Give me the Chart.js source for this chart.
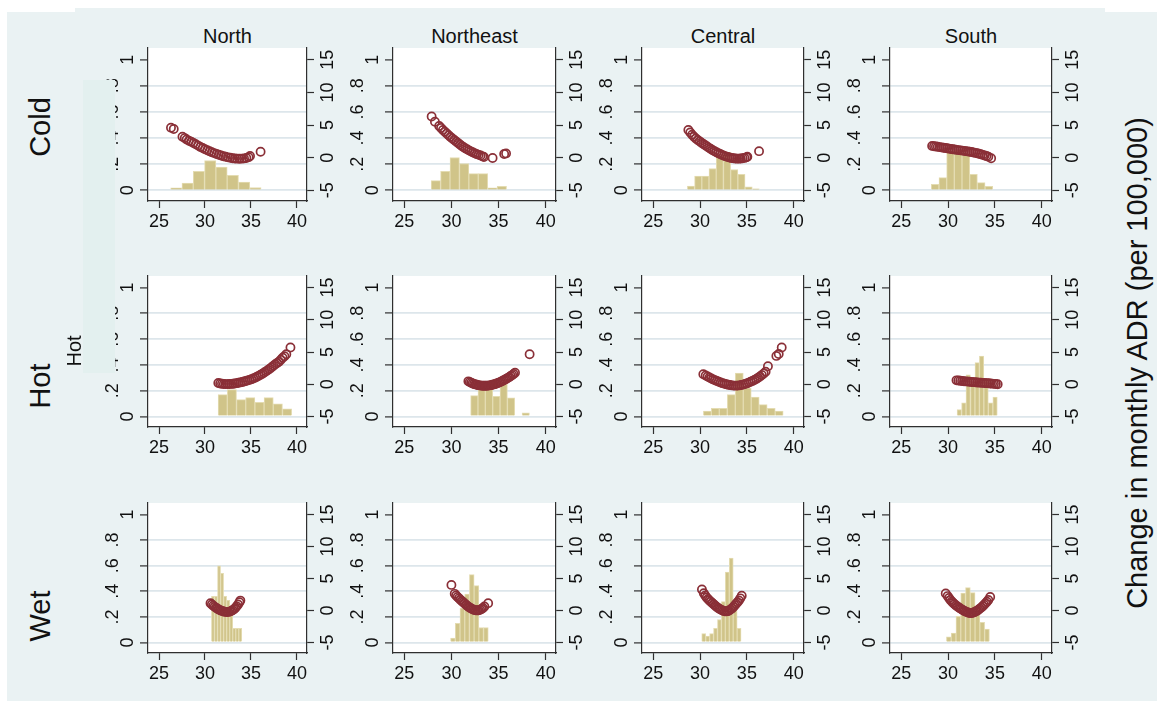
<!DOCTYPE html>
<html lang="en">
<head>
<meta charset="utf-8">
<title>Change in monthly ADR by temperature, climate and region</title>
<script src="https://cdn.jsdelivr.net/npm/chart.js@4.4.1/dist/chart.umd.min.js"></script>
<style>
  html, body { margin:0; padding:0; background:#ffffff; }
  #fig { position:relative; width:1157px; height:708px; overflow:hidden; background:#ffffff;
         font-family:'Liberation Sans', Arial, Helvetica, sans-serif; color:#111; }
  .bg { position:absolute; background:#eaf2f3; }
  #fig canvas { position:absolute; z-index:1; }
  .txt { position:absolute; white-space:nowrap; line-height:1; }
  .rot { transform: translate(-50%,-50%) rotate(-90deg); }
</style>
</head>
<body>
<div id="fig">
  <div class="bg" style="left:7px;top:12px;width:1150px;height:689px"></div>
  <div class="bg" style="left:75px;top:8px;width:1030px;height:4px"></div>
</div>
<script>
// ---------------- labels & ticks ----------------
const regions = ['North', 'Northeast', 'Central', 'South'];
const climates = ['Cold', 'Hot', 'Wet'];
const yAxisTitle = 'Change in monthly ADR (per 100,000)';
const xTickValues = [25, 30, 35, 40];
const densityTickValues = [0, 0.2, 0.4, 0.6, 0.8, 1];
const densityTickLabels = ['0', '.2', '.4', '.6', '.8', '1'];
const adrTickValues = [-5, 0, 5, 10, 15];

// ---------------- Cold ----------------
const coldNorthBinTemp = [26.88, 28.11, 29.34, 30.57, 31.80, 33.03, 34.26, 35.49];
const coldNorthDensity = [0.018, 0.056, 0.146, 0.228, 0.177, 0.115, 0.062, 0.020];
const coldNorthTemp = [26.3, 26.6, 27.55, 27.8, 28.0, 28.25, 28.5, 28.75, 29.0, 29.25, 29.5, 29.75, 30.0, 30.25, 30.5, 30.75, 31.0, 31.25, 31.5, 31.75, 32.0, 32.25, 32.5, 32.75, 33.0, 33.25, 33.5, 33.75, 34.0, 34.25, 34.5, 34.75, 34.9, 36.05];
const coldNorthADR = [4.6, 4.4, 3.2, 3.0, 2.8, 2.6, 2.45, 2.25, 2.05, 1.85, 1.65, 1.48, 1.3, 1.14, 0.98, 0.84, 0.7, 0.57, 0.45, 0.33, 0.22, 0.13, 0.05, -0.02, -0.08, -0.12, -0.15, -0.16, -0.15, -0.11, -0.05, 0.08, 0.25, 0.9];

const coldNortheastBinTemp = [28.35, 29.35, 30.35, 31.35, 32.35, 33.35, 34.35, 35.35];
const coldNortheastDensity = [0.074, 0.146, 0.251, 0.205, 0.128, 0.128, 0.018, 0.031];
const coldNortheastTemp = [27.9, 28.25, 28.7, 28.9, 29.1, 29.3, 29.5, 29.7, 29.9, 30.1, 30.3, 30.5, 30.7, 30.9, 31.1, 31.3, 31.5, 31.7, 31.9, 32.1, 32.3, 32.5, 32.7, 32.9, 33.1, 33.3, 33.45, 34.37, 35.6, 35.8];
const coldNortheastADR = [6.3, 5.5, 4.85, 4.55, 4.25, 3.97, 3.7, 3.44, 3.18, 2.93, 2.7, 2.47, 2.24, 2.02, 1.8, 1.6, 1.42, 1.25, 1.08, 0.93, 0.79, 0.66, 0.54, 0.43, 0.32, 0.2, 0.1, -0.05, 0.55, 0.65];

const coldCentralBinTemp = [29.03, 29.80, 30.57, 31.34, 32.11, 32.88, 33.65, 34.42, 35.19, 35.96];
const coldCentralDensity = [0.033, 0.108, 0.108, 0.167, 0.27, 0.29, 0.159, 0.123, 0.026, 0.012];
const coldCentralTemp = [28.75, 28.95, 29.15, 29.35, 29.55, 29.75, 29.95, 30.15, 30.35, 30.55, 30.75, 30.95, 31.15, 31.35, 31.55, 31.75, 31.95, 32.15, 32.35, 32.55, 32.75, 32.95, 33.15, 33.35, 33.55, 33.75, 33.95, 34.15, 34.35, 34.55, 34.75, 34.95, 35.05, 36.3];
const coldCentralADR = [4.25, 3.85, 3.5, 3.2, 2.95, 2.72, 2.5, 2.3, 2.1, 1.9, 1.7, 1.5, 1.32, 1.15, 0.98, 0.82, 0.68, 0.55, 0.42, 0.3, 0.2, 0.1, 0.02, -0.05, -0.1, -0.13, -0.15, -0.15, -0.13, -0.1, -0.04, 0.05, 0.15, 1.0];

const coldSouthBinTemp = [28.62, 29.44, 30.26, 31.08, 31.90, 32.72, 33.54, 34.36];
const coldSouthDensity = [0.046, 0.097, 0.29, 0.31, 0.27, 0.123, 0.059, 0.031];
const coldSouthTemp = [28.3, 28.5, 28.7, 28.9, 29.1, 29.3, 29.5, 29.7, 29.9, 30.1, 30.3, 30.5, 30.7, 30.9, 31.1, 31.3, 31.5, 31.7, 31.9, 32.1, 32.3, 32.5, 32.7, 32.9, 33.1, 33.3, 33.5, 33.7, 33.9, 34.1, 34.3, 34.6];
const coldSouthADR = [1.8, 1.75, 1.7, 1.67, 1.62, 1.57, 1.52, 1.47, 1.43, 1.38, 1.33, 1.28, 1.24, 1.2, 1.16, 1.12, 1.08, 1.04, 1.0, 0.96, 0.91, 0.86, 0.8, 0.74, 0.67, 0.6, 0.52, 0.43, 0.34, 0.25, 0.14, -0.1];

// ---------------- Hot ----------------
const hotNorthBinTemp = [31.93, 32.93, 33.93, 34.93, 35.93, 36.93, 37.93, 38.93];
const hotNorthDensity = [0.169, 0.208, 0.131, 0.146, 0.110, 0.146, 0.097, 0.059];
const hotNorthTemp = [31.45, 31.65, 31.85, 32.05, 32.25, 32.45, 32.65, 32.85, 33.05, 33.25, 33.45, 33.65, 33.85, 34.05, 34.25, 34.45, 34.65, 34.85, 35.05, 35.25, 35.45, 35.65, 35.85, 36.05, 36.25, 36.45, 36.65, 36.85, 37.05, 37.25, 37.45, 37.65, 37.85, 38.05, 38.25, 38.45, 38.65, 38.85, 39.3];
const hotNorthADR = [0.2, 0.12, 0.07, 0.04, 0.02, 0.02, 0.03, 0.05, 0.08, 0.12, 0.17, 0.22, 0.28, 0.34, 0.42, 0.5, 0.59, 0.68, 0.78, 0.9, 1.02, 1.15, 1.3, 1.46, 1.63, 1.81, 2.0, 2.2, 2.42, 2.65, 2.88, 3.1, 3.3, 3.5, 3.8, 4.1, 4.35, 4.65, 5.7];

const hotNortheastBinTemp = [32.43, 33.21, 33.99, 34.77, 35.55, 36.33, 37.89];
const hotNortheastDensity = [0.162, 0.25, 0.24, 0.156, 0.254, 0.144, 0.028];
const hotNortheastTemp = [31.8, 31.95, 32.1, 32.25, 32.4, 32.55, 32.7, 32.85, 33.0, 33.15, 33.3, 33.45, 33.6, 33.75, 33.9, 34.05, 34.2, 34.35, 34.5, 34.65, 34.8, 34.95, 35.1, 35.25, 35.4, 35.55, 35.7, 35.85, 36.0, 36.15, 36.3, 36.45, 36.6, 36.75, 38.3];
const hotNortheastADR = [0.45, 0.33, 0.22, 0.12, 0.04, -0.03, -0.09, -0.14, -0.18, -0.21, -0.23, -0.24, -0.24, -0.23, -0.21, -0.18, -0.14, -0.09, -0.03, 0.04, 0.12, 0.2, 0.29, 0.39, 0.5, 0.61, 0.73, 0.86, 0.99, 1.13, 1.27, 1.42, 1.58, 1.8, 4.65];

const hotCentralBinTemp = [30.78, 31.63, 32.48, 33.34, 34.19, 35.04, 35.89, 36.74, 37.60, 38.45];
const hotCentralDensity = [0.041, 0.062, 0.062, 0.169, 0.336, 0.221, 0.151, 0.092, 0.062, 0.041];
const hotCentralTemp = [30.35, 30.6, 30.8, 31.0, 31.2, 31.4, 31.6, 31.8, 32.0, 32.2, 32.4, 32.6, 32.8, 33.0, 33.2, 33.4, 33.6, 33.8, 34.0, 34.2, 34.4, 34.6, 34.8, 35.0, 35.2, 35.4, 35.6, 35.8, 36.0, 36.2, 36.4, 36.6, 36.8, 37.0, 37.25, 38.15, 38.4, 38.72];
const hotCentralADR = [1.55, 1.35, 1.2, 1.05, 0.9, 0.75, 0.62, 0.5, 0.38, 0.27, 0.17, 0.08, 0.0, -0.07, -0.13, -0.18, -0.21, -0.22, -0.21, -0.18, -0.13, -0.06, 0.03, 0.13, 0.25, 0.38, 0.52, 0.67, 0.83, 1.0, 1.2, 1.42, 1.65, 1.95, 2.8, 4.4, 4.7, 5.7];

const hotSouthBinTemp = [31.20, 31.68, 32.15, 32.63, 33.11, 33.58, 34.06, 34.54, 35.02];
const hotSouthDensity = [0.054, 0.105, 0.323, 0.26, 0.418, 0.469, 0.28, 0.105, 0.151];
const hotSouthTemp = [30.9, 31.1, 31.3, 31.5, 31.7, 31.9, 32.1, 32.3, 32.5, 32.7, 32.9, 33.1, 33.3, 33.5, 33.7, 33.9, 34.1, 34.3, 34.5, 34.7, 34.9, 35.1, 35.3];
const hotSouthADR = [0.6, 0.57, 0.53, 0.5, 0.47, 0.44, 0.41, 0.38, 0.35, 0.32, 0.3, 0.27, 0.25, 0.23, 0.21, 0.19, 0.17, 0.15, 0.12, 0.09, 0.06, 0.03, 0.0];

// ---------------- Wet ----------------
const wetNorthBinTemp = [30.87, 31.20, 31.53, 31.86, 32.19, 32.52, 32.85, 33.18, 33.51, 33.84];
const wetNorthDensity = [0.36, 0.36, 0.6, 0.54, 0.36, 0.33, 0.25, 0.11, 0.11, 0.11];
const wetNorthTemp = [30.6, 30.75, 30.9, 31.05, 31.2, 31.35, 31.5, 31.65, 31.8, 31.95, 32.1, 32.25, 32.4, 32.55, 32.7, 32.85, 33.0, 33.15, 33.3, 33.45, 33.6, 33.75, 33.85];
const wetNorthADR = [1.15, 0.95, 0.75, 0.57, 0.42, 0.28, 0.15, 0.04, -0.05, -0.12, -0.18, -0.22, -0.24, -0.22, -0.17, -0.08, 0.04, 0.2, 0.4, 0.65, 0.95, 1.3, 1.55];

const wetNortheastBinTemp = [30.16, 30.66, 31.16, 31.66, 32.16, 32.66, 33.16, 33.66];
const wetNortheastDensity = [0.034, 0.149, 0.269, 0.379, 0.53, 0.444, 0.117, 0.117];
const wetNortheastTemp = [30.0, 30.35, 30.5, 30.65, 30.8, 30.95, 31.1, 31.25, 31.4, 31.55, 31.7, 31.85, 32.0, 32.15, 32.3, 32.45, 32.6, 32.75, 32.9, 33.05, 33.2, 33.35, 33.5, 33.9];
const wetNortheastADR = [4.0, 2.6, 2.35, 2.12, 1.9, 1.7, 1.5, 1.3, 1.1, 0.9, 0.72, 0.55, 0.4, 0.27, 0.16, 0.08, 0.03, 0.02, 0.05, 0.12, 0.24, 0.4, 0.62, 1.15];

const wetCentralBinTemp = [30.39, 30.81, 31.23, 31.65, 32.07, 32.49, 32.91, 33.33, 33.75, 34.17];
const wetCentralDensity = [0.07, 0.05, 0.07, 0.11, 0.18, 0.32, 0.55, 0.66, 0.30, 0.11];
const wetCentralTemp = [30.2, 30.4, 30.55, 30.7, 30.85, 31.0, 31.15, 31.3, 31.45, 31.6, 31.75, 31.9, 32.05, 32.2, 32.35, 32.5, 32.65, 32.8, 32.95, 33.1, 33.25, 33.4, 33.55, 33.7, 33.85, 34.0, 34.15, 34.3, 34.45];
const wetCentralADR = [3.3, 2.7, 2.35, 2.05, 1.8, 1.58, 1.37, 1.17, 0.97, 0.78, 0.6, 0.43, 0.28, 0.14, 0.03, -0.06, -0.12, -0.14, -0.1, 0.0, 0.15, 0.33, 0.55, 0.8, 1.05, 1.3, 1.56, 1.9, 2.3];

const wetSouthBinTemp = [30.08, 30.59, 31.10, 31.61, 32.12, 32.63, 33.14, 33.65, 34.16];
const wetSouthDensity = [0.045, 0.074, 0.205, 0.387, 0.429, 0.39, 0.27, 0.158, 0.105];
const wetSouthTemp = [29.75, 29.95, 30.1, 30.25, 30.4, 30.55, 30.7, 30.85, 31.0, 31.15, 31.3, 31.45, 31.6, 31.75, 31.9, 32.05, 32.2, 32.35, 32.5, 32.65, 32.8, 32.95, 33.1, 33.25, 33.4, 33.55, 33.7, 33.85, 34.0, 34.15, 34.3, 34.5];
const wetSouthADR = [2.65, 2.25, 1.95, 1.65, 1.4, 1.18, 0.98, 0.8, 0.63, 0.47, 0.32, 0.18, 0.05, -0.07, -0.18, -0.28, -0.35, -0.38, -0.38, -0.34, -0.26, -0.15, -0.02, 0.13, 0.3, 0.48, 0.68, 0.9, 1.13, 1.37, 1.65, 2.1];

// ---------------- assemble ----------------
const panels = {
  Cold: {
    North:     { binTemp: coldNorthBinTemp, density: coldNorthDensity, temp: coldNorthTemp, adr: coldNorthADR },
    Northeast: { binTemp: coldNortheastBinTemp, density: coldNortheastDensity, temp: coldNortheastTemp, adr: coldNortheastADR },
    Central:   { binTemp: coldCentralBinTemp, density: coldCentralDensity, temp: coldCentralTemp, adr: coldCentralADR },
    South:     { binTemp: coldSouthBinTemp, density: coldSouthDensity, temp: coldSouthTemp, adr: coldSouthADR }
  },
  Hot: {
    North:     { binTemp: hotNorthBinTemp, density: hotNorthDensity, temp: hotNorthTemp, adr: hotNorthADR },
    Northeast: { binTemp: hotNortheastBinTemp, density: hotNortheastDensity, temp: hotNortheastTemp, adr: hotNortheastADR },
    Central:   { binTemp: hotCentralBinTemp, density: hotCentralDensity, temp: hotCentralTemp, adr: hotCentralADR },
    South:     { binTemp: hotSouthBinTemp, density: hotSouthDensity, temp: hotSouthTemp, adr: hotSouthADR }
  },
  Wet: {
    North:     { binTemp: wetNorthBinTemp, density: wetNorthDensity, temp: wetNorthTemp, adr: wetNorthADR },
    Northeast: { binTemp: wetNortheastBinTemp, density: wetNortheastDensity, temp: wetNortheastTemp, adr: wetNortheastADR },
    Central:   { binTemp: wetCentralBinTemp, density: wetCentralDensity, temp: wetCentralTemp, adr: wetCentralADR },
    South:     { binTemp: wetSouthBinTemp, density: wetSouthDensity, temp: wetSouthTemp, adr: wetSouthADR }
  }
};

// ---------------- layout / style ----------------
const PLOT_L = [148, 393, 642, 890];
const PLOT_R = [307, 556, 804, 1052];
const PLOT_T = [48, 276, 503];
const PLOT_B = [201, 427, 653];
const IN_W = 28, OUT_W = 22, RIGHT_W = 38, X_H = 36, TOP_PAD = 24;
const X_MIN = 23.8, X_MAX = 41.1;
const D_MIN = -0.082, D_MAX = 1.09;
const A_MIN = -5 + 20 * D_MIN, A_MAX = -5 + 20 * D_MAX;
const AXIS = '#2f2f2f';
const GRID = '#dde6eb';
const SAND = 'rgb(208,196,137)';
const SAND_EDGE = 'rgb(228,220,178)';
const MAROON = '#8a2f37';

Chart.defaults.font.family = "'Liberation Sans', Arial, Helvetica, sans-serif";
Chart.defaults.font.size = 18;
Chart.defaults.color = '#111';

const densityLabel = v => {
  const i = densityTickValues.findIndex(t => Math.abs(t - v) < 1e-9);
  return i >= 0 ? densityTickLabels[i] : '';
};

const whitePlot = {
  id: 'whitePlot',
  beforeDraw(chart) {
    const { ctx, chartArea: a } = chart;
    ctx.save();
    ctx.fillStyle = '#ffffff';
    ctx.fillRect(a.left, a.top, a.right - a.left, a.bottom - a.top);
    ctx.restore();
  }
};

const fig = document.getElementById('fig');

function makePanel(r, c) {
  const d = panels[climates[r]][regions[c]];
  const canvas = document.createElement('canvas');
  const w = PLOT_R[c] - PLOT_L[c] + IN_W + OUT_W + RIGHT_W;
  const h = TOP_PAD + PLOT_B[r] - PLOT_T[r] + X_H;
  canvas.width = w; canvas.height = h;
  canvas.style.width = w + 'px'; canvas.style.height = h + 'px';
  canvas.style.left = (PLOT_L[c] - IN_W - OUT_W) + 'px';
  canvas.style.top = (PLOT_T[r] - TOP_PAD) + 'px';
  fig.appendChild(canvas);

  const rotTicks = { autoSkip: false, minRotation: 90, maxRotation: 90, crossAlign: 'center' };

  new Chart(canvas, {
    type: 'bar',
    data: {
      datasets: [
        {
          type: 'scatter',
          data: d.temp.map((t, i) => ({ x: t, y: d.adr[i] })),
          xAxisID: 'x', yAxisID: 'y2', order: 1,
          pointStyle: 'circle', pointRadius: 4.1, pointBorderWidth: 1.7,
          pointBorderColor: MAROON, pointBackgroundColor: 'rgba(0,0,0,0)',
          borderColor: MAROON, backgroundColor: 'rgba(0,0,0,0)', showLine: false
        },
        {
          type: 'bar',
          data: d.binTemp.map((t, i) => ({ x: t, y: d.density[i] })),
          xAxisID: 'x', yAxisID: 'y', order: 2,
          backgroundColor: SAND, borderColor: SAND_EDGE, borderWidth: 1,
          barPercentage: 1, categoryPercentage: 1
        }
      ]
    },
    options: {
      responsive: false, maintainAspectRatio: false, devicePixelRatio: 1,
      animation: false, events: [],
      layout: { padding: { top: TOP_PAD, left: 0, right: 0, bottom: 0 } },
      plugins: { legend: { display: false }, tooltip: { enabled: false }, title: { display: false } },
      scales: {
        x: {
          type: 'linear', position: 'bottom', min: X_MIN, max: X_MAX, offset: false,
          afterBuildTicks: s => { s.ticks = xTickValues.map(v => ({ value: v })); },
          afterFit: s => { s.height = X_H; },
          ticks: { autoSkip: false, minRotation: 0, maxRotation: 0, padding: 3, callback: v => String(v) },
          grid: { display: true, drawOnChartArea: false, drawTicks: true, tickLength: 7, tickColor: AXIS, tickWidth: 1.2, offset: false },
          border: { display: true, color: AXIS, width: 1.2 }
        },
        y: {
          type: 'linear', position: 'left', weight: 0, min: D_MIN, max: D_MAX,
          afterBuildTicks: s => { s.ticks = densityTickValues.map(v => ({ value: v })); },
          afterFit: s => { s.width = IN_W; },
          ticks: Object.assign({ padding: 7, callback: v => (v === 0 || v === 1) ? densityLabel(v) : '' }, rotTicks),
          grid: {
            drawOnChartArea: true, drawTicks: true, tickLength: 8, tickColor: AXIS, tickWidth: 1.2,
            lineWidth: 1.8,
            color: ctx => (ctx.tick && ctx.tick.value === 1) ? 'rgba(0,0,0,0)' : GRID
          },
          border: { display: true, color: AXIS, width: 1.2 }
        },
        yo: {
          type: 'linear', axis: 'y', position: 'left', weight: 1, min: D_MIN, max: D_MAX,
          afterBuildTicks: s => { s.ticks = densityTickValues.map(v => ({ value: v })); },
          afterFit: s => { s.width = OUT_W; },
          ticks: Object.assign({ padding: -0.5, callback: v => (v > 0 && v < 1) ? densityLabel(v) : '' }, rotTicks),
          grid: { display: false, drawTicks: false, drawOnChartArea: false },
          border: { display: false }
        },
        y2: {
          type: 'linear', position: 'right', min: A_MIN, max: A_MAX,
          afterBuildTicks: s => { s.ticks = adrTickValues.map(v => ({ value: v })); },
          afterFit: s => { s.width = RIGHT_W; },
          ticks: Object.assign({ padding: 4, callback: v => String(v) }, rotTicks),
          grid: { drawOnChartArea: false, drawTicks: true, tickLength: 7, tickColor: AXIS, tickWidth: 1.2 },
          border: { display: true, color: AXIS, width: 1.2 }
        }
      }
    },
    plugins: [whitePlot]
  });
}

for (let r = 0; r < climates.length; r++) {
  for (let c = 0; c < regions.length; c++) makePanel(r, c);
}

// ---------------- text ----------------
function addText(text, css, cls) {
  const el = document.createElement('div');
  el.className = 'txt' + (cls ? ' ' + cls : '');
  el.textContent = text;
  Object.assign(el.style, css);
  fig.appendChild(el);
  return el;
}
regions.forEach((name, c) => addText(name, {
  left: ((PLOT_L[c] + PLOT_R[c]) / 2) + 'px', top: '26px', fontSize: '20px', transform: 'translateX(-50%)'
}));
const ROW_LABEL_Y = [127, 386, 616];
climates.forEach((name, r) => addText(name, { left: '40px', top: ROW_LABEL_Y[r] + 'px', fontSize: '29px' }, 'rot'));
addText(yAxisTitle, { left: '1137px', top: '363px', fontSize: '29px' }, 'rot');

const patch = document.createElement('div');
patch.style.cssText = 'position:absolute;left:83px;top:80px;width:32px;height:293px;background:#e3f0ef;z-index:2';
fig.appendChild(patch);
addText('Hot', { left: '74px', top: '351px', fontSize: '20px', zIndex: 3 }, 'rot');
</script>
</body>
</html>
